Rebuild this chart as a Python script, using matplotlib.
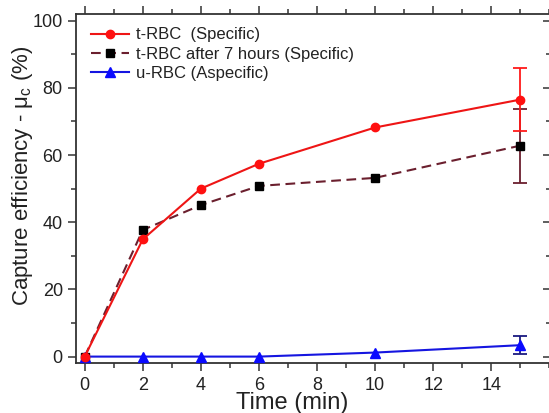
import numpy as np
import matplotlib
matplotlib.use('Agg')
import matplotlib.pyplot as plt
from matplotlib.ticker import MultipleLocator

plt.rcParams['font.family'] = ['Liberation Sans', 'DejaVu Sans']
plt.rcParams['mathtext.fontset'] = 'custom'
plt.rcParams['mathtext.rm'] = 'Liberation Sans'
plt.rcParams['lines.scale_dashes'] = False

# ── Data ──────────────────────────────────────────────────────────────────
time_min = [0, 2, 4, 6, 10, 15]
trbc      = [0, 34.9, 50.0, 57.4, 68.2, 76.5]
trbc_err  = [0, 0, 0, 0, 0, 9.3]
trbc7     = [0, 37.7, 45.1, 50.8, 53.2, 62.8]
trbc7_err = [0, 0, 0, 0, 0, 11.0]
urbc      = [0, 0, 0, 0, 1.2, 3.4]
urbc_err  = [0, 0, 0, 0, 0, 2.6]

labels = ["t-RBC  (Specific)", "t-RBC after 7 hours (Specific)", "u-RBC (Aspecific)"]
xticks = [0, 2, 4, 6, 8, 10, 12, 14]

fig = plt.figure(figsize=(5.49, 4.13), dpi=100)
ax = fig.add_axes([0.1384, 0.1203, 0.865, 0.846])

# error bars only on the last point
ax.errorbar(time_min[-1:], trbc7[-1:], yerr=trbc7_err[-1:], fmt='none',
            ecolor='#6b1f2e', elinewidth=1.3, capsize=5, capthick=1.3, zorder=2)
ax.errorbar(time_min[-1:], trbc[-1:], yerr=trbc_err[-1:], fmt='none',
            ecolor='#ff1a1a', elinewidth=1.3, capsize=5, capthick=1.3, zorder=2)
ax.errorbar(time_min[-1:], urbc[-1:], yerr=urbc_err[-1:], fmt='none',
            ecolor='#1a1a80', elinewidth=1.3, capsize=5, capthick=1.3, zorder=2)

ax.plot(time_min, trbc, '-', color='#ee1515', lw=1.5, marker='o', ms=6,
        mfc='#ff1010', mec='#ff1010', label=labels[0], zorder=4)
ax.plot(time_min, trbc7, color='#6b1f2e', lw=1.5, dashes=(7, 4), marker='s',
        ms=5.5, mfc='black', mec='black', label=labels[1], zorder=3)
ax.plot(time_min, urbc, '-', color='#1515e0', lw=1.5, marker='^', ms=6.5,
        mfc='#0a0aff', mec='#0a0aff', label=labels[2], zorder=3)

ax.set_xlim(-0.3, 16.05)
ax.set_ylim(-2, 102)
ax.set_xticks(xticks)
ax.xaxis.set_minor_locator(MultipleLocator(1))
ax.yaxis.set_major_locator(MultipleLocator(20))
ax.yaxis.set_minor_locator(MultipleLocator(10))

ax.tick_params(which='both', direction='out', top=True, right=True,
               labeltop=False, labelright=False,
               color='#333333', labelcolor='#222222', labelsize=13, width=1.1)
ax.tick_params(which='major', length=6)
ax.tick_params(which='minor', length=3.5)
# mirrored ticks on top/right point inward
for t in ax.xaxis.get_major_ticks() + ax.xaxis.get_minor_ticks():
    t.tick2line.set_marker(2)
for t in ax.yaxis.get_major_ticks() + ax.yaxis.get_minor_ticks():
    t.tick2line.set_marker(0)

for s in ax.spines.values():
    s.set_color('#333333')
    s.set_linewidth(1.3)

ax.set_xlabel('Time (min)', fontsize=17, color='#222222')
ax.set_ylabel('Capture efficiency - μ$_{\\mathregular{c}}$ (%)', fontsize=16,
              color='#222222')
ax.xaxis.set_label_coords(0.456, -0.083)
ax.yaxis.set_label_coords(-0.086, 0.536)

ax.legend(loc='upper left', frameon=False, fontsize=12, handlelength=2.3,
          handletextpad=0.4, labelspacing=0.25, borderaxespad=0.2,
          bbox_to_anchor=(0.01, 0.99), labelcolor='#222222')

fig.savefig('out.png', dpi=100)
